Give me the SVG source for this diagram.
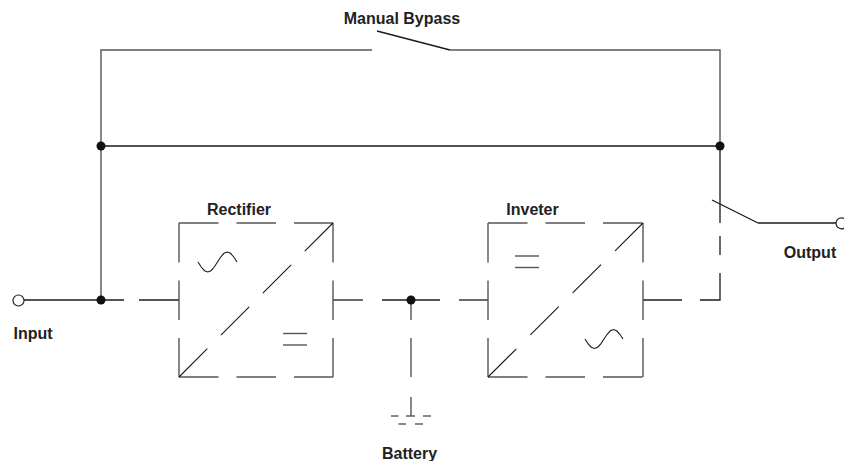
<svg xmlns="http://www.w3.org/2000/svg" width="844" height="461" viewBox="0 0 844 461">
<style>
.w{stroke:#1a1a1a;stroke-width:1.3;fill:none}
.g{stroke:#555;stroke-width:1.4;fill:none}
.d{stroke:#555;stroke-width:1.4;fill:none;stroke-dasharray:39.5 18}
.t{font-family:"Liberation Sans",Arial,sans-serif;font-weight:bold;font-size:16px;fill:#222;text-anchor:middle}
.dot{fill:#111}
.term{fill:#fff;stroke:#222;stroke-width:1.2}
</style>
<rect width="844" height="461" fill="#fff"/>
<g id="connectors">
  <polyline class="g" points="101,300 101,50 372,50"/>
  <line class="w" x1="377" y1="31" x2="450" y2="50"/>
  <polyline class="g" points="450,50 720,50 720,146"/>
  <line class="w" x1="101" y1="146" x2="720" y2="146"/>
  <line class="w" x1="720" y1="146" x2="720" y2="223"/>
  <line class="w" x1="24" y1="300" x2="124" y2="300"/>
  <line class="w" x1="139" y1="300" x2="179" y2="300"/>
  <line class="w" x1="333" y1="300" x2="363" y2="300"/>
  <line class="w" x1="382" y1="300" x2="440" y2="300"/>
  <line class="w" x1="459" y1="300" x2="488" y2="300"/>
  <line class="w" x1="643" y1="300" x2="682" y2="300"/>
  <polyline class="w" points="700,300 720,300 720,273"/>
  <line class="w" x1="720" y1="255" x2="720" y2="236"/>
  <line class="w" x1="712" y1="200" x2="758" y2="223"/>
  <line class="w" x1="758" y1="223" x2="836" y2="223"/>
  <line class="g" x1="411" y1="300" x2="411" y2="320"/>
  <line class="g" x1="411" y1="338" x2="411" y2="377"/>
  <line class="g" x1="411" y1="397" x2="411" y2="416"/>
  <circle class="dot" cx="101" cy="146" r="4.5"/>
  <circle class="dot" cx="720" cy="146" r="4.5"/>
  <circle class="dot" cx="101" cy="300" r="4.5"/>
  <circle class="dot" cx="411" cy="300" r="4.5"/>
</g>
<g id="manual-bypass">
  <text class="t" x="402" y="23.5">Manual Bypass</text>
</g>
<g id="input">
  <circle class="term" cx="18.5" cy="300.5" r="5.5"/>
  <text class="t" x="33" y="339">Input</text>
</g>
<g id="output">
  <circle class="term" cx="841.5" cy="223.3" r="5.5"/>
  <text class="t" x="810" y="258">Output</text>
</g>
<g id="rectifier">
  <text class="t" x="239" y="215">Rectifier</text>
  <line class="d" x1="179" y1="223" x2="333" y2="223"/>
  <line class="d" x1="179" y1="377" x2="333" y2="377"/>
  <line class="d" x1="179" y1="223" x2="179" y2="377"/>
  <line class="d" x1="333" y1="223" x2="333" y2="377"/>
  <line class="w" x1="179" y1="377" x2="333" y2="223" style="stroke-dasharray:40 19.3;stroke-width:1.1"/>
  <polyline class="w" style="stroke-width:1.1" points="198,262 201.25,267 204.5,270.7 207.75,272 211,270.7 214.25,267 217.5,262 220.75,257 224,253.3 227.25,252 230.5,253.3 233.75,257 237,262"/>
  <line class="g" x1="283" y1="333.5" x2="307" y2="333.5"/>
  <line class="g" x1="283" y1="345" x2="307" y2="345"/>
</g>
<g id="inverter">
  <text class="t" x="532.5" y="215">Inveter</text>
  <line class="d" x1="488" y1="223" x2="643" y2="223"/>
  <line class="d" x1="488" y1="377" x2="643" y2="377"/>
  <line class="d" x1="488" y1="223" x2="488" y2="377"/>
  <line class="d" x1="643" y1="223" x2="643" y2="377"/>
  <line class="w" x1="488" y1="377" x2="643" y2="223" style="stroke-dasharray:40 19.7;stroke-width:1.1"/>
  <polyline class="w" style="stroke-width:1.1" points="585,339 588.2,343.8 591.3,347.2 594.5,348.5 597.7,347.2 600.8,343.8 604,339 607.2,334.3 610.3,330.8 613.5,329.5 616.7,330.8 619.8,334.3 623,339"/>
  <line class="g" x1="515" y1="256" x2="539" y2="256"/>
  <line class="g" x1="515" y1="267.5" x2="539" y2="267.5"/>
</g>
<g id="battery">
  <line class="g" x1="391" y1="416" x2="398.5" y2="416"/>
  <line class="g" x1="406" y1="416" x2="415" y2="416"/>
  <line class="g" x1="423" y1="416" x2="431" y2="416"/>
  <line class="g" x1="398.5" y1="424" x2="406" y2="424"/>
  <line class="g" x1="415" y1="424" x2="423" y2="424"/>
  <text class="t" x="409.5" y="459">Battery</text>
</g>
</svg>
